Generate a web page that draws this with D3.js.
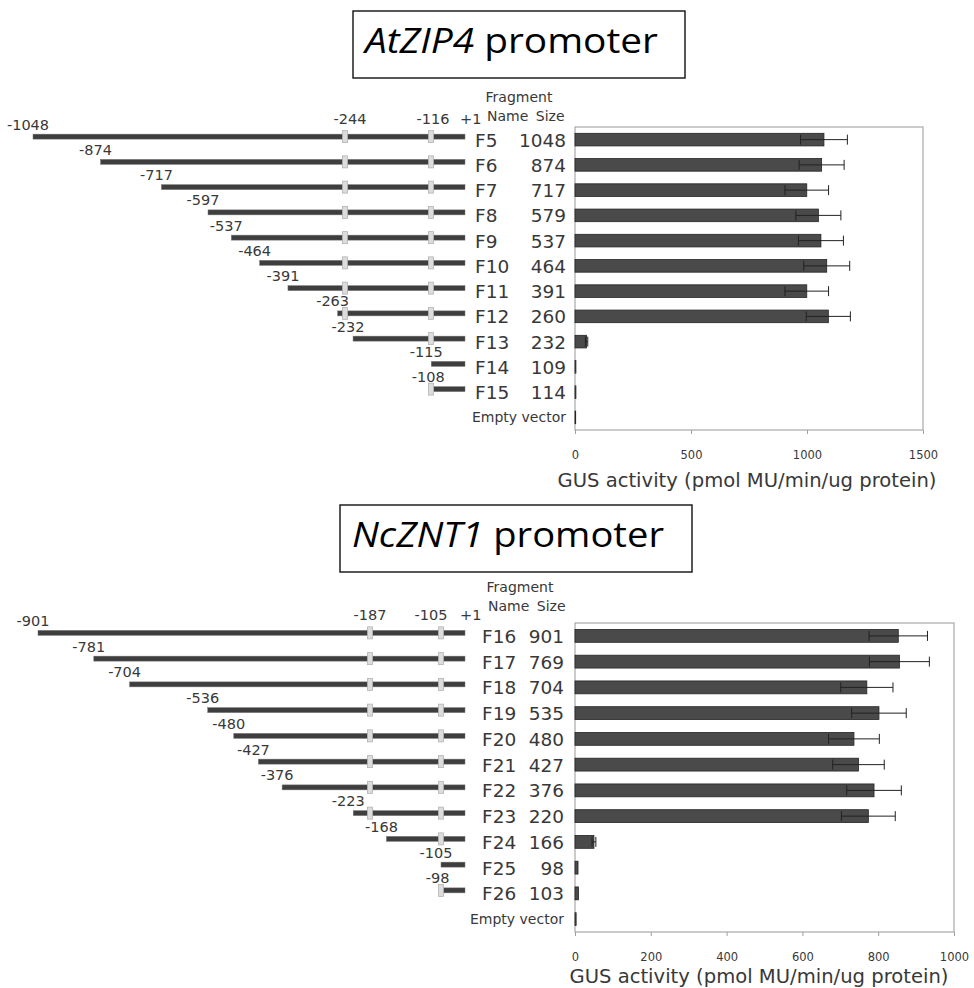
<!DOCTYPE html>
<html>
<head>
<meta charset="utf-8">
<script src="https://cdn.jsdelivr.net/npm/d3@7"></script>
<style>
  body { margin: 0; background: #fff; }
  svg { display: block; }
</style>
</head>
<body>
<svg id="fig" width="974" height="988"></svg>
<script>
// ---- AtZIP4 promoter deletion series ----
const zipNames    = ["F5", "F6", "F7", "F8", "F9", "F10", "F11", "F12", "F13", "F14", "F15", "Empty vector"];
const zipSizes    = ["1048", "874", "717", "579", "537", "464", "391", "260", "232", "109", "114", ""];
const zipStarts   = [-1048, -874, -717, -597, -537, -464, -391, -263, -232, -115, -108, null];
const zipSiteLabels = [-244, -116];
const zipSites    = [[-244, -116], [-244, -116], [-244, -116], [-244, -116], [-244, -116], [-244, -116],
                     [-244, -116], [-244, -116], [-116], [], [-116], []];
const zipActivity = [1073, 1063, 999, 1049, 1060, 1085, 999, 1092, 50, 4, 4, 3];
const zipError    = [101, 97, 94, 97, 97, 99, 94, 95, 5, 0, 0, 0];
const zipTicks    = [0, 500, 1000, 1500];

// ---- NcZNT1 promoter deletion series ----
const zntNames    = ["F16", "F17", "F18", "F19", "F20", "F21", "F22", "F23", "F24", "F25", "F26", "Empty vector"];
const zntSizes    = ["901", "769", "704", "535", "480", "427", "376", "220", "166", "98", "103", ""];
const zntStarts   = [-901, -781, -704, -536, -480, -427, -376, -223, -168, -105, -98, null];
const zntSiteLabels = [-187, -105];
const zntSites    = [[-187, -105], [-187, -105], [-187, -105], [-187, -105], [-187, -105], [-187, -105],
                     [-187, -105], [-187, -105], [-105], [], [-105], []];
const zntActivity = [853, 856, 770, 802, 736, 748, 789, 774, 50, 8, 9, 3];
const zntError    = [77, 79, 69, 72, 67, 68, 72, 71, 5, 0, 0, 0];
const zntTicks    = [0, 200, 400, 600, 800, 1000];

const axisTitle = "GUS activity (pmol MU/min/ug protein)";

const svg = d3.select("#fig");
const SANS = "'DejaVu Sans', sans-serif";
const TEXT = "#383838";

function drawPanel(p) {
  const g = svg.append("g");

  // boxed title
  g.append("rect")
    .attr("x", p.box[0]).attr("y", p.box[1])
    .attr("width", p.box[2]).attr("height", p.box[3])
    .attr("fill", "none").attr("stroke", "#111").attr("stroke-width", 1.4);
  const title = g.append("text")
    .attr("x", p.titleX).attr("y", p.titleY)
    .attr("font-family", "'Open Sans', 'Noto Sans', sans-serif")
    .attr("font-size", 35).attr("fill", "#000")
    .attr("textLength", p.titleLen).attr("lengthAdjust", "spacingAndGlyphs");
  title.append("tspan").attr("font-style", "italic").text(p.gene);
  title.append("tspan").text(" promoter");

  const rows = p.names.map((name, i) => ({
    name, size: p.sizes[i], start: p.starts[i], sites: p.sites[i],
    act: p.activity[i], err: p.errors[i]
  }));

  // scales: rows, activity, and a schematic (piecewise) promoter coordinate map
  const y = d3.scaleBand().domain(p.names)
    .range([p.plot.top, p.plot.bottom]).paddingInner(0.5).paddingOuter(0.25);
  const x = d3.scaleLinear().domain([0, p.xMax]).range([p.plot.left, p.plot.right]);
  const pos = d3.scaleLinear().domain([p.starts[0], ...p.siteLabels, 1]).range(p.mapRange);
  const cy = d => y(d.name) + y.bandwidth() / 2;
  const ly = d => cy(d) - 3;

  // header
  g.append("text").attr("x", p.headX).attr("y", p.headY)
    .attr("text-anchor", "middle").attr("font-family", SANS).attr("font-size", 14)
    .attr("fill", TEXT).text("Fragment");
  g.append("text").attr("x", p.nameHeadX).attr("y", p.headY + 19)
    .attr("font-family", SANS).attr("font-size", 14).attr("fill", TEXT)
    .attr("word-spacing", 3).text("Name Size");

  // promoter fragment map
  const frag = rows.filter(d => d.start !== null);
  const firstY = ly(rows[0]);
  g.selectAll(".frag").data(frag).join("rect")
    .attr("x", d => pos(d.start)).attr("y", d => ly(d) - 2.5)
    .attr("width", d => pos(1) - pos(d.start)).attr("height", 5)
    .attr("fill", "#3e3e3e").attr("stroke", "#777").attr("stroke-width", 0.5);
  frag.forEach(d => {
    g.selectAll(null).data(d.sites).join("rect")
      .attr("x", s => pos(s) - 2.5).attr("y", ly(d) - 6)
      .attr("width", 5).attr("height", 12)
      .attr("fill", "#dcdcdc").attr("stroke", "#b3b3b3").attr("stroke-width", 0.8);
  });
  g.selectAll(".startLab").data(frag).join("text")
    .attr("x", d => pos(d.start) - 5).attr("y", d => ly(d) - 7)
    .attr("text-anchor", "middle").attr("font-family", SANS).attr("font-size", 14.5)
    .attr("fill", TEXT).text(d => String(d.start));
  g.selectAll(".siteLab").data(p.siteLabels).join("text")
    .attr("x", (s, i) => pos(s) + p.siteDx[i]).attr("y", firstY - 13)
    .attr("text-anchor", "middle").attr("font-family", SANS).attr("font-size", 14.5)
    .attr("fill", TEXT).text(s => String(s));
  g.append("text").attr("x", pos(1) - 5).attr("y", firstY - 13)
    .attr("font-family", SANS).attr("font-size", 14.5).attr("fill", TEXT).text("+1");

  // fragment names and sizes
  rows.forEach(d => {
    if (d.name === "Empty vector") {
      g.append("text").attr("x", p.sizeX).attr("y", cy(d) + 5)
        .attr("text-anchor", "end").attr("font-family", SANS).attr("font-size", 14)
        .attr("fill", TEXT).text(d.name);
    } else {
      g.append("text").attr("x", p.nameX).attr("y", cy(d) + 7)
        .attr("font-family", SANS).attr("font-size", 18.5).attr("fill", TEXT).text(d.name);
      g.append("text").attr("x", p.sizeX).attr("y", cy(d) + 7)
        .attr("text-anchor", "end").attr("font-family", SANS).attr("font-size", 18.5)
        .attr("fill", TEXT).text(d.size);
    }
  });

  // plot frame
  g.append("rect")
    .attr("x", p.plot.left).attr("y", p.plot.top)
    .attr("width", p.plot.right - p.plot.left).attr("height", p.plot.bottom - p.plot.top)
    .attr("fill", "none").attr("stroke", "#a9a9a9").attr("stroke-width", 1.2);

  // activity bars
  g.selectAll(".bar").data(rows).join("rect")
    .attr("x", x(0)).attr("y", d => y(d.name))
    .attr("width", d => x(d.act) - x(0)).attr("height", y.bandwidth())
    .attr("fill", "#4a4a4a").attr("stroke", "#252525").attr("stroke-width", 0.8);

  // error bars
  const eb = rows.filter(d => d.err > 0);
  g.selectAll(".errLine").data(eb).join("line")
    .attr("x1", d => x(d.act - d.err)).attr("x2", d => x(d.act + d.err))
    .attr("y1", cy).attr("y2", cy)
    .attr("stroke", "#222").attr("stroke-width", 1);
  eb.forEach(d => {
    [d.act - d.err, d.act + d.err].forEach(v => {
      g.append("line").attr("x1", x(v)).attr("x2", x(v))
        .attr("y1", cy(d) - 5).attr("y2", cy(d) + 5)
        .attr("stroke", "#222").attr("stroke-width", 1);
    });
  });

  // x axis
  const ax = g.append("g").attr("transform", `translate(0,${p.plot.bottom})`)
    .call(d3.axisBottom(x).tickValues(p.ticks).tickFormat(d3.format("d"))
      .tickSize(4).tickPadding(17));
  ax.select(".domain").remove();
  ax.selectAll(".tick line").attr("stroke", "#a0a0a0");
  ax.selectAll(".tick text").attr("font-family", SANS).attr("font-size", 11.5).attr("fill", TEXT);

  g.append("text").attr("x", p.axisTitleX).attr("y", p.axisTitleY)
    .attr("text-anchor", "middle").attr("font-family", SANS).attr("font-size", 19.5)
    .attr("fill", TEXT).attr("textLength", 379).attr("lengthAdjust", "spacingAndGlyphs")
    .text(axisTitle);
}

drawPanel({
  gene: "AtZIP4", box: [353, 11, 332, 67], titleX: 365, titleY: 53, titleLen: 293,
  names: zipNames, sizes: zipSizes, starts: zipStarts, sites: zipSites,
  siteLabels: zipSiteLabels, siteDx: [5, 2], activity: zipActivity, errors: zipError,
  ticks: zipTicks, xMax: 1500,
  plot: { left: 575, right: 923, top: 127, bottom: 430 },
  mapRange: [33, 345, 431, 465],
  headX: 519, headY: 102, nameHeadX: 487,
  nameX: 475, sizeX: 566,
  axisTitleX: 747, axisTitleY: 487
});

drawPanel({
  gene: "NcZNT1", box: [340, 505, 352, 67], titleX: 352, titleY: 547, titleLen: 312,
  names: zntNames, sizes: zntSizes, starts: zntStarts, sites: zntSites,
  siteLabels: zntSiteLabels, siteDx: [0, -10], activity: zntActivity, errors: zntError,
  ticks: zntTicks, xMax: 1000,
  plot: { left: 575, right: 954, top: 623, bottom: 932 },
  mapRange: [38, 370, 441, 465],
  headX: 520, headY: 592, nameHeadX: 488,
  nameX: 482, sizeX: 564,
  axisTitleX: 759, axisTitleY: 983
});
</script>
</body>
</html>
